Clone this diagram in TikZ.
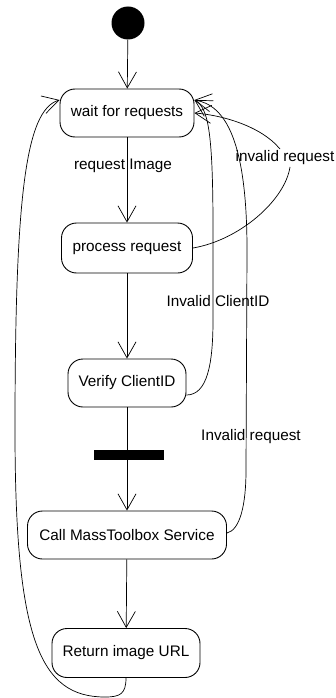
\documentclass[tikz,border=0pt]{standalone}
\usepackage{fontspec}
\setmainfont{Liberation Sans}
\usetikzlibrary{arrows.meta}
\begin{document}
\begin{tikzpicture}[x=1pt,y=-1pt,
  state/.style={draw, rounded corners=15pt, line width=0.9pt, inner sep=0pt, font=\fontsize{15.3}{18}\selectfont},
  lbl/.style={inner sep=0pt, font=\fontsize{15.3}{18}\selectfont},
  tr/.style={-{Straight Barb[length=16pt,width=18pt]}, line width=0.7pt},
  ln/.style={line width=0.7pt},
]
\useasboundingbox (0,0) rectangle (336,698);
\node[circle, fill=black, minimum size=33pt, inner sep=0pt] (init) at (128,23) {};
\node[state, minimum width=134pt, minimum height=48pt] (wait) at (127,113) {wait for requests};
\node[state, minimum width=131pt, minimum height=50pt] (proc) at (127,248) {process request};
\node[state, minimum width=118pt, minimum height=48pt] (ver) at (127,383) {Verify ClientID};
\node[fill=black, minimum width=70pt, minimum height=10pt, inner sep=0pt] (bar) at (129,455) {};
\node[state, minimum width=199pt, minimum height=48pt] (call) at (127,535) {Call MassToolbox Service};
\node[state, minimum width=148pt, minimum height=49pt] (ret) at (126,653) {Return image URL};

\node[lbl] (l1) at (123,166) {request Image};
\node[lbl] (l2) at (285,158) {invalid request};
\node[lbl] (l3) at (218,301) {Invalid ClientID};
\node[lbl] (l4) at (251,437) {Invalid request};

\coordinate (ir1) at (290,167);
\coordinate (ir2) at (280,149);
\coordinate (wtop) at ([yshift=13pt]wait.east);
\coordinate (wleft) at ([yshift=13pt]wait.west);

\draw[tr] (init) -- (wait);
\draw[tr] (wait) -- (proc);
\draw[tr] (proc) -- (ver);
\draw[ln] (ver) -- (bar.north -| ver.south);
\draw[tr] (bar.south -| call.north) -- (call);
\draw[tr] (call) -- (ret);

\draw[tr] (ret.south) .. controls (126,694) and (120,697) .. (105,697)
  .. controls (40,697) and (15,640) .. (15,430)
  .. controls (15,200) and (25,110) .. (wleft);

\draw[ln] (proc.east) .. controls (240,240) and (285,200) .. (ir1);
\draw[tr] (ir2) .. controls (260,125) and (220,115) .. (wait.east);

\draw[tr] ([yshift=-12pt]ver.east) .. controls (207,395) and (213,365) .. (213,320)
  -- (213,230) .. controls (213,130) and (208,108) .. (wtop);

\draw[tr] ([yshift=2pt]call.east) .. controls (240,530) and (246,505) .. (246,470)
  -- (247,250) .. controls (247,140) and (225,105) .. (wtop);
\end{tikzpicture}
\end{document}
